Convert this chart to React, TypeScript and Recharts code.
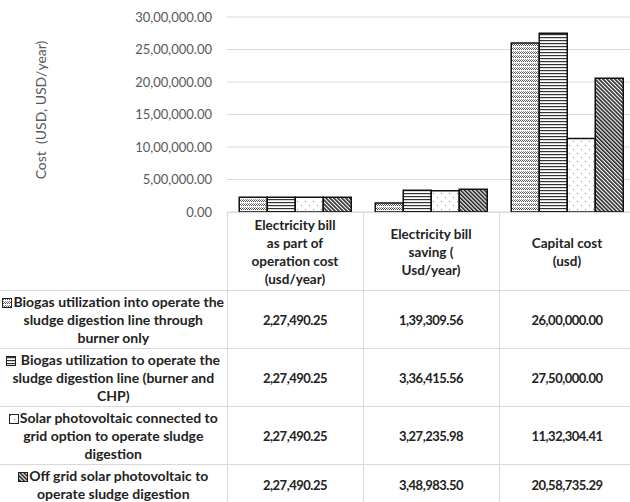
import { BarChart, Bar, XAxis, YAxis, CartesianGrid } from "recharts";

// #region cost comparison data
const categories = [
  "Electricity bill\nas part of\noperation cost\n(usd/year)",
  "Electricity bill\nsaving (\nUsd/year)",
  "Capital cost\n(usd)",
];
const seriesNames = [
  "Biogas utilization into operate the\nsludge digestion line through\nburner only",
  " Biogas utilization to operate the\nsludge digestion line (burner and\nCHP)",
  "Solar photovoltaic connected to\ngrid option to operate sludge\ndigestion",
  "Off grid solar photovoltaic to\noperate sludge digestion",
];
const burnerOnly = [227490.25, 139309.56, 2600000.0];
const burnerChp = [227490.25, 336415.56, 2750000.0];
const gridSolar = [227490.25, 327235.98, 1132304.41];
const offGridSolar = [227490.25, 348983.5, 2058735.29];
const yTicks = [0, 500000, 1000000, 1500000, 2000000, 2500000, 3000000];
// #endregion

const series = [burnerOnly, burnerChp, gridSolar, offGridSolar];
const keys = ["s1", "s2", "s3", "s4"];
const patternIds = ["pat-wave", "pat-horiz", "pat-dots", "pat-diag"];
const rowHeights = [58, 58, 58, 40];

const data = categories.map((c, i) => {
  const row: Record<string, number | string> = { name: c };
  series.forEach((s, j) => (row[keys[j]] = s[i]));
  return row;
});

// Indian digit grouping with two decimals, e.g. 27,50,000.00
const fmt = (v: number) => {
  const [int, dec] = v.toFixed(2).split(".");
  let head = int.slice(0, -3);
  const tail = int.slice(-3);
  const groups: string[] = [];
  while (head.length > 2) {
    groups.unshift(head.slice(-2));
    head = head.slice(0, -2);
  }
  if (head) groups.unshift(head);
  return (groups.length ? groups.join(",") + "," : "") + tail + "." + dec;
};

const FONT = "Lato, 'Noto Sans', sans-serif";
const GRID = "#d9d9d9";

const Patterns = () => (
  <defs>
    <pattern id="pat-wave" width="4" height="4" patternUnits="userSpaceOnUse">
      <rect width="4" height="4" fill="#fff" />
      <rect x="0" y="0" width="1" height="1" fill="#555" />
      <rect x="1" y="1" width="1" height="1" fill="#555" />
      <rect x="2" y="0" width="1" height="1" fill="#555" />
      <rect x="3" y="1" width="1" height="1" fill="#555" />
      <rect x="1" y="3" width="1" height="1" fill="#999" />
      <rect x="3" y="3" width="1" height="1" fill="#999" />
    </pattern>
    <pattern id="pat-horiz" width="4" height="3" patternUnits="userSpaceOnUse">
      <rect width="4" height="3" fill="#fff" />
      <rect y="1" width="4" height="1.2" fill="#333" />
    </pattern>
    <pattern id="pat-dots" width="8" height="8" patternUnits="userSpaceOnUse">
      <rect width="8" height="8" fill="#fff" />
      <rect x="1" y="1" width="1" height="1" fill="#888" />
      <rect x="5" y="5" width="1" height="1" fill="#888" />
    </pattern>
    <pattern
      id="pat-diag"
      width="2.8"
      height="2.8"
      patternUnits="userSpaceOnUse"
      patternTransform="rotate(-45)"
    >
      <rect width="2.8" height="2.8" fill="#fff" />
      <rect width="1.6" height="2.8" fill="#222" />
    </pattern>
  </defs>
);

const LegendKey = ({ idx }: { idx: number }) => (
  <svg width="10" height="10" style={{ verticalAlign: "-1px", marginRight: 1 }}>
    <Patterns />
    <rect x="0.5" y="0.5" width="9" height="9" fill={`url(#${patternIds[idx]})`} stroke="#222" />
  </svg>
);

const cellBase: React.CSSProperties = {
  borderRight: `1px solid ${GRID}`,
  borderBottom: `1px solid ${GRID}`,
  textAlign: "center",
  whiteSpace: "pre-line",
  padding: 0,
  fontWeight: 700,
  fontSize: 13.5,
  lineHeight: "18px",
  color: "#222",
};

const numCell: React.CSSProperties = {
  ...cellBase,
  fontSize: 13,
  letterSpacing: "-0.5px",
};

const App = () => {
  return (
    <div
      style={{
        position: "absolute",
        left: 0,
        top: 0,
        width: 630,
        height: 502,
        overflow: "hidden",
        background: "#fff",
        fontFamily: FONT,
      }}
    >
      <BarChart
        width={640}
        height={232}
        data={data}
        margin={{ top: 17, right: 5, bottom: 20, left: 0 }}
        barCategoryGap="9%"
        barGap={0}
      >
        <Patterns />
        <CartesianGrid vertical={false} stroke={GRID} />
        <XAxis dataKey="name" hide />
        <YAxis
          width={227}
          domain={[0, 3000000]}
          ticks={yTicks}
          tickFormatter={fmt}
          axisLine={false}
          tickLine={false}
          tickMargin={9}
          tick={{ fill: "#595959", fontSize: 13, fontFamily: FONT }}
          label={() => (
            <text
              x={40}
              y={110}
              transform="rotate(-90 40 110)"
              textAnchor="middle"
              dominantBaseline="central"
              fill="#595959"
              fontSize={14}
              fontFamily={FONT}
              style={{ whiteSpace: "pre" }}
            >
              Cost  (USD, USD/year)
            </text>
          )}
        />
        {keys.map((k, i) => (
          <Bar
            key={k}
            dataKey={k}
            fill={`url(#${patternIds[i]})`}
            stroke="#111"
            strokeWidth={1.5}
            isAnimationActive={false}
          />
        ))}
      </BarChart>
      <table
        style={{
          position: "absolute",
          left: 0,
          top: 212,
          width: 635,
          borderCollapse: "collapse",
          tableLayout: "fixed",
          fontFamily: FONT,
        }}
      >
        <colgroup>
          <col style={{ width: 227 }} />
          <col style={{ width: 136 }} />
          <col style={{ width: 136 }} />
          <col style={{ width: 136 }} />
        </colgroup>
        <tbody>
          <tr style={{ height: 78 }}>
            <td style={{ ...cellBase }} />
            {categories.map((c) => (
              <td key={c} style={{ ...cellBase, borderTop: `1px solid ${GRID}` }}>
                {c}
              </td>
            ))}
          </tr>
          {seriesNames.map((n, i) => (
            <tr key={n} style={{ height: rowHeights[i] }}>
              <td style={{ ...cellBase, fontSize: 14 }}>
                <LegendKey idx={i} />
                {n}
              </td>
              {series[i].map((v, j) => (
                <td key={j} style={numCell}>
                  {fmt(v)}
                </td>
              ))}
            </tr>
          ))}
        </tbody>
      </table>
    </div>
  );
};

export default App;
